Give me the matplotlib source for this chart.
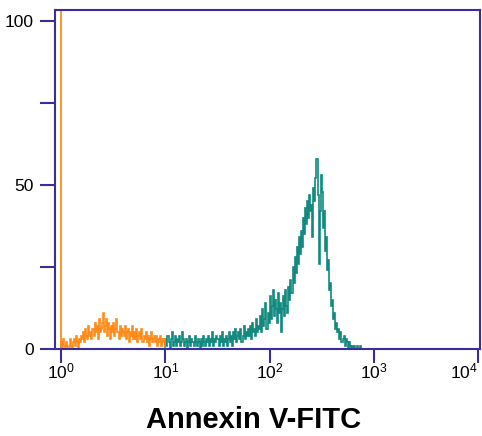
import numpy as np
import matplotlib
matplotlib.use("Agg")
import matplotlib.pyplot as plt

plt.rcParams['font.family'] = ['Liberation Sans', 'DejaVu Sans']
plt.rcParams['mathtext.fontset'] = 'custom'
plt.rcParams['mathtext.rm'] = 'Liberation Sans'
plt.rcParams['mathtext.it'] = 'Liberation Sans'

# ---------------------------------
# Data (counts per channel, channels in log10 decades)
# ---------------------------------
bin_width = 0.01

control_start = 0.0
control_counts = [2, 0, 3, 1, 0, 2, 1, 0, 3, 1,
                  0, 2, 3, 1, 4, 2, 0, 3, 2, 4,
                  3, 5, 2, 6, 4, 3, 7, 4, 5, 3,
                  6, 4, 8, 5, 7, 3, 9, 5, 6, 8,
                  11, 5, 7, 9, 4, 8, 6, 3, 7, 5,
                  8, 4, 6, 9, 5, 3, 7, 4, 6, 5,
                  4, 7, 3, 5, 6, 2, 5, 4, 7, 3,
                  5, 3, 6, 2, 4, 5, 3, 6, 2, 4,
                  3, 5, 2, 4, 1, 3, 5, 2, 3, 4,
                  2, 4, 1, 3, 2, 4, 1, 3, 2, 3]
control_spike_x = 1.0
control_spike_count = 110

annexin_start = 1.0
annexin_counts = [3, 1, 4, 2, 0, 3, 5, 1, 2, 4,
                  1, 3, 2, 4, 1, 2, 5, 3, 1, 2,
                  3, 0, 2, 4, 1, 3, 2, 1, 4, 2,
                  1, 3, 2, 0, 3, 1, 4, 2, 1, 3,
                  2, 4, 1, 3, 2, 5, 1, 3, 2, 4,
                  3, 1, 4, 2, 5, 1, 3, 2, 4, 1,
                  3, 5, 2, 4, 1, 5, 3, 6, 2, 4,
                  5, 3, 6, 2, 4, 7, 3, 5, 4, 6,
                  4, 7, 3, 8, 5, 6, 4, 9, 5, 7,
                  6, 10, 5, 12, 7, 9, 14, 6, 11, 8,
                  16, 9, 13, 18, 10, 15, 12, 8, 17, 11,
                  14, 5, 12, 16, 10, 18, 13, 11, 19, 15,
                  21, 17, 25, 20, 28, 23, 31, 26, 34, 29,
                  36, 31, 40, 35, 43, 38, 45, 40, 47, 42,
                  44, 34, 49, 45, 52, 58, 47, 26, 42, 53,
                  48, 37, 42, 30, 34, 24, 27, 18, 20, 13,
                  15, 9, 11, 6, 8, 5, 6, 3, 5, 2,
                  3, 4, 1, 3, 2, 0, 2, 1, 0, 1,
                  0, 1, 0, 0, 1, 0, 0, 1, 0, 0]

x_ticks = [1, 10, 100, 1000, 10000]
x_labels = ['$10^0$', '$10^1$', '$10^2$', '$10^3$', '$10^4$']
y_ticks = [0, 50, 100]
y_minor = [25, 75]

orange = '#ff8c1a'
teal = '#128a80'
frame = '#3a2d9c'

# ---------------------------------
# Plot
# ---------------------------------
fig = plt.figure(figsize=(4.82, 4.36), dpi=100)
ax = fig.add_axes([0.114, 0.2, 0.882, 0.777])

c_edges = 10 ** (control_start + bin_width * np.arange(len(control_counts) + 1))
a_edges = 10 ** (annexin_start + bin_width * np.arange(len(annexin_counts) + 1))

ax.stairs(annexin_counts, a_edges, color=teal, linewidth=1.2)
ax.stairs(control_counts, c_edges, color=orange, linewidth=1.2)
ax.vlines(control_spike_x, 0, control_spike_count, color=orange, linewidth=1.3)

ax.set_xscale('log')
ax.set_xlim(10 ** -0.06, 10 ** 4.02)
ax.set_ylim(0, 103.4)

ax.set_xticks(x_ticks)
ax.set_xticklabels(x_labels)
ax.xaxis.set_minor_locator(matplotlib.ticker.NullLocator())
ax.set_yticks(y_ticks)
ax.set_yticks(y_minor, minor=True)

ax.tick_params(axis='both', which='both', color=frame, width=1.5, labelsize=12.5)
ax.tick_params(axis='y', which='both', length=11, pad=4)
ax.tick_params(axis='x', which='major', length=10, pad=-1)

# last label sits inside the figure edge, like the original
last = ax.get_xticklabels()[-1]
last.set_horizontalalignment('right')
last.set_x(10 ** 4.01)

for s in ax.spines.values():
    s.set_color(frame)
    s.set_linewidth(1.5)

ax.set_xlabel('Annexin V-FITC', fontsize=21, fontweight='bold', labelpad=18)
ax.xaxis.label.set_x(0.468)

fig.savefig('out.png', dpi=100)
